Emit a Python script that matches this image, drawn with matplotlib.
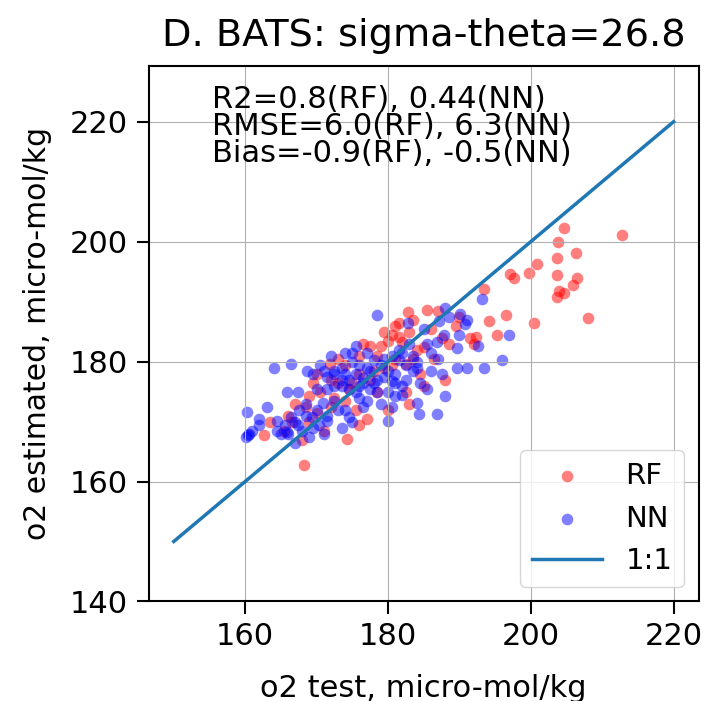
import matplotlib
matplotlib.use('Agg')
import matplotlib.pyplot as plt
import numpy as np

# RF points (test, estimated)
rf_test = [212.7, 204.6, 203.8, 206.3, 203.7, 200.9, 199.7, 197.1, 197.6, 203.7,
           206.4, 205.9, 203.9, 203.7, 204.7, 208.0, 200.5, 193.4, 196.5, 194.1,
           195.2, 192.3, 185.5, 182.8, 180.0, 181.5, 182.0, 179.0, 177.5, 168.2,
           162.6, 168.9, 171.9, 174.2, 176.0, 182.5, 182.5, 190.0, 191.5, 188.5,
           186.0, 180.5, 183.0, 184.0, 176.0, 173.0, 170.5, 167.0, 166.0, 169.0,
           172.0, 174.5, 177.5, 179.5, 181.0, 178.5, 175.5, 171.0, 168.0, 165.5,
           163.5, 170.0, 173.0, 176.0, 184.5, 186.5, 188.0, 185.0, 183.0, 180.0,
           177.0, 174.0, 172.0, 169.5, 181.5, 187.5, 189.5, 192.0, 179.5,
           170.0, 172.5, 175.0, 178.0, 180.5, 183.5, 185.0, 178.5, 176.5, 174.0,
           168.5, 166.5, 181.0, 183.5, 187.0]
rf_est = [201.1, 202.3, 199.9, 198.1, 197.3, 196.3, 194.8, 194.6, 194.0, 194.5,
          193.9, 192.7, 191.8, 190.7, 191.5, 187.3, 186.4, 192.1, 187.7, 186.8,
          184.5, 184.1, 188.6, 188.3, 183.5, 184.1, 183.2, 182.6, 182.6, 162.7,
          167.7, 174.3, 179.6, 167.1, 169.5, 174.9, 179.6, 187.5, 184.0, 183.0,
          185.5, 184.5, 185.0, 182.0, 178.0, 176.5, 175.0, 173.0, 171.0, 170.0,
          172.5, 175.5, 177.0, 179.0, 180.5, 175.0, 172.0, 168.5, 167.0, 168.5,
          170.0, 178.0, 180.5, 181.0, 178.0, 180.5, 177.0, 176.0, 173.0, 172.0,
          170.5, 173.5, 177.0, 176.5, 186.5, 184.0, 186.0, 183.0, 185.0,
          171.5, 174.0, 176.5, 178.5, 179.5, 180.5, 182.5, 181.0, 183.0, 179.5,
          172.5, 170.0, 186.0, 187.0, 188.5]

# NN points (test, estimated)
nn_test = [196.9, 195.9, 193.5, 191.1, 189.6, 189.6, 190.1, 190.8, 192.6, 187.1,
           187.8, 186.8, 182.8, 178.5, 175.5, 160.2, 160.4, 160.1, 161.9, 164.1,
           166.4, 164.4, 165.9, 165.6, 167.4, 166.4, 165.9, 167.4, 168.7, 169.4,
           170.4, 171.4, 170.9, 171.4, 172.4, 173.5, 174.5, 176.5, 175.5, 176.5,
           175.0, 178.5, 180.0, 180.5, 181.0, 184.0, 184.3, 186.8, 185.5, 188.0,
           187.5, 183.5, 181.5, 180.0, 178.0, 177.0, 173.5, 193.2, 191.0, 185.5,
           184.0, 182.0, 179.0, 177.5, 176.0, 174.0, 172.5, 170.0, 168.5, 167.5,
           169.5, 168.0, 171.5, 173.0, 174.5, 176.0, 178.0, 179.5, 181.0, 182.5,
           184.5, 186.0, 187.0, 183.0, 185.0, 188.5, 170.5, 172.0, 174.0, 165.0,
           163.0, 162.0, 167.0, 169.0, 171.0, 173.5, 175.0, 177.0, 179.0, 180.5,
           182.0, 184.0, 186.0, 190.0, 188.0,
           171.5, 172.5, 173.5, 174.5, 175.5, 176.5, 177.5, 178.5, 180.0, 181.0,
           182.0, 179.5, 181.5, 183.5, 176.0, 174.0, 172.5, 170.0, 168.5, 167.0,
           166.0, 164.5, 160.5, 161.0, 169.5, 171.0, 180.5, 182.5, 177.0, 175.0]
nn_est = [184.4, 180.2, 179.0, 179.0, 179.0, 182.3, 188.0, 186.2, 182.6, 186.8,
          184.4, 183.2, 186.5, 187.7, 182.6, 171.6, 167.7, 167.4, 170.4, 179.0,
          179.6, 170.1, 168.3, 169.5, 169.5, 170.7, 174.9, 174.9, 178.5, 170.7,
          169.5, 170.1, 173.1, 175.5, 177.9, 179.0, 170.7, 172.5, 174.9, 177.3,
          181.4, 174.9, 170.1, 176.7, 174.3, 173.1, 171.3, 171.3, 175.5, 174.3,
          177.9, 178.5, 180.2, 178.5, 180.2, 181.4, 177.0, 190.5, 187.0, 183.0,
          180.0, 181.5, 179.5, 178.5, 179.5, 178.0, 176.0, 175.5, 173.0, 172.0,
          169.0, 168.5, 171.0, 172.0, 175.5, 176.0, 176.5, 177.5, 178.0, 177.0,
          176.5, 178.5, 180.5, 183.0, 185.5, 187.5, 179.5, 181.0, 181.5, 168.0,
          172.5, 169.5, 166.5, 167.5, 168.0, 169.0, 170.0, 173.5, 173.0, 172.5,
          176.0, 179.0, 181.5, 184.5, 189.0,
          177.5, 178.5, 176.0, 177.0, 178.0, 176.5, 175.5, 177.0, 175.0, 176.5,
          174.5, 180.5, 182.0, 181.0, 174.0, 172.0, 173.5, 172.0, 171.0, 170.0,
          168.0, 168.5, 168.0, 168.5, 178.0, 178.5, 181.0, 179.5, 179.0, 180.0]

one_to_one = [150, 220]

fig = plt.figure(figsize=(7.05, 7.01), dpi=100)
ax = fig.add_axes([0.211, 0.142, 0.78, 0.764])

ax.scatter(rf_test, rf_est, s=70, c='r', alpha=0.5, linewidths=0, label='RF')
ax.scatter(nn_test, nn_est, s=70, c='b', alpha=0.5, linewidths=0, label='NN')
ax.plot(one_to_one, one_to_one, c='#1f77b4', lw=2.5, label='1:1')

ax.set_ylim(140, 229.3)
ax.set_xticks([160, 180, 200, 220])
ax.set_yticks([140, 160, 180, 200, 220])
ax.grid(True)
for s in ax.spines.values():
    s.set_linewidth(1.5)
ax.tick_params(labelsize=22, width=1.5, length=9, pad=6)

ax.text(0.115, 0.965, 'R2=0.8(RF), 0.44(NN)\nRMSE=6.0(RF), 6.3(NN)\nBias=-0.9(RF), -0.5(NN)',
        transform=ax.transAxes, fontsize=22, va='top', ha='left', linespacing=0.92)

ax.set_title('D. BATS: sigma-theta=26.8', fontsize=27.5, pad=14)
ax.set_xlabel('o2 test, micro-mol/kg', fontsize=22, labelpad=16)
ax.set_ylabel('o2 estimated, micro-mol/kg', fontsize=21.5, labelpad=13)
ax.legend(loc='lower right', fontsize=21, scatterpoints=1, handlelength=2.4)

plt.savefig('out.png', dpi=100)
